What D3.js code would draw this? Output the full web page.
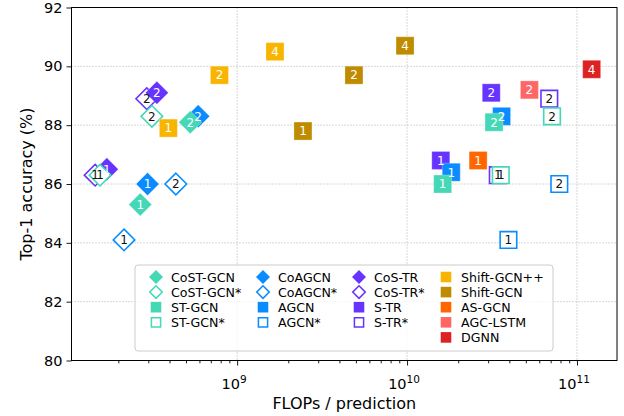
<!DOCTYPE html>
<html>
<head>
<meta charset="utf-8">
<script src="https://cdn.jsdelivr.net/npm/d3@7"></script>
<style>
  body { margin: 0; background: #fff; }
  text { font-family: "DejaVu Sans", sans-serif; }
</style>
</head>
<body>
<main></main>
<script>
// legend order (column by column)
var seriesNames  = ["CoST-GCN", "CoST-GCN*", "ST-GCN", "ST-GCN*",
                    "CoAGCN", "CoAGCN*", "AGCN", "AGCN*",
                    "CoS-TR", "CoS-TR*", "S-TR", "S-TR*",
                    "Shift-GCN++", "Shift-GCN", "AS-GCN", "AGC-LSTM", "DGNN"];
var seriesColors = ["#45d8b6", "#45d8b6", "#45d8b6", "#45d8b6",
                    "#0a8cff", "#0a8cff", "#0a8cff", "#0a8cff",
                    "#6633ff", "#6633ff", "#6633ff", "#6633ff",
                    "#f8b500", "#bf8b00", "#ff6600", "#ff6666", "#dd2222"];
var seriesShapes = ["D", "D", "s", "s", "D", "D", "s", "s", "D", "D", "s", "s",
                    "s", "s", "s", "s", "s"];
var seriesFilled = [true, false, true, false, true, false, true, false,
                    true, false, true, false, true, true, true, true, true];

var seriesFlops = [
  [2.69e8, 5.3e8], [1.56e8, 3.15e8], [1.62e10, 3.25e10], [3.56e10, 7.13e10],
  [2.97e8, 5.9e8], [2.16e8, 4.36e8], [1.82e10, 3.6e10], [3.95e10, 7.87e10],
  [1.71e8, 3.37e8], [1.46e8, 2.94e8], [1.58e10, 3.13e10], [3.42e10, 6.87e10],
  [3.94e8, 7.87e8, 1.67e9], [2.44e9, 4.87e9, 9.73e9], [2.62e10], [5.25e10], [1.22e11]
];
var seriesAcc = [
  [85.3, 88.1], [86.3, 88.3], [86.0, 88.1], [86.3, 88.3],
  [86.0, 88.3], [84.1, 86.0], [86.4, 88.3], [84.1, 86.0],
  [86.5, 89.1], [86.3, 88.9], [86.8, 89.1], [86.3, 88.9],
  [87.9, 89.7, 90.5], [87.8, 89.7, 90.7], [86.8], [89.2], [89.9]
];
var seriesTags = [
  ["1", "2"], ["1", "2"], ["1", "2"], ["1", "2"],
  ["1", "2"], ["1", "2"], ["1", "2"], ["1", "2"],
  ["1", "2"], ["1", "2"], ["1", "2"], ["1", "2"],
  ["1", "2", "4"], ["1", "2", "4"], ["1"], ["2"], ["4"]
];

// painting order of the marks
var drawOrder = ["CoS-TR*", "CoS-TR", "S-TR*", "S-TR",
                 "CoAGCN*", "CoAGCN", "AGCN*", "AGCN",
                 "CoST-GCN*", "CoST-GCN", "ST-GCN*", "ST-GCN",
                 "Shift-GCN++", "Shift-GCN", "AS-GCN", "AGC-LSTM", "DGNN"];

var yTicks = [80, 82, 84, 86, 88, 90, 92];
var xTicks = [1e9, 1e10, 1e11];

var W = 624, H = 416;
var plotL = 71.5, plotR = 617, plotT = 7.5, plotB = 360.5;

var svg = d3.select("main").append("svg")
    .attr("width", W)
    .attr("height", H);

var x = d3.scaleLog().domain([1.06e8, 1.72e11]).range([plotL, plotR]);
var y = d3.scaleLinear().domain([80, 92]).range([plotB, plotT]);

// grid
var minorX = [];
for (var e = 8; e <= 11; e++) {
  for (var m = 2; m <= 9; m++) {
    var v = m * Math.pow(10, e);
    if (v > 1.06e8 && v < 1.72e11) minorX.push(v);
  }
}
svg.append("g").selectAll("line").data(xTicks).enter().append("line")
  .attr("x1", d => x(d)).attr("x2", d => x(d))
  .attr("y1", plotT).attr("y2", plotB)
  .attr("stroke", "#b0b0b0").attr("stroke-width", 1).attr("stroke-dasharray", "1,2");
svg.append("g").selectAll("line").data(yTicks.slice(1, -1)).enter().append("line")
  .attr("x1", plotL).attr("x2", plotR)
  .attr("y1", d => y(d)).attr("y2", d => y(d))
  .attr("stroke", "#b0b0b0").attr("stroke-width", 1).attr("stroke-dasharray", "1,2");

// axes
var yAxis = svg.append("g")
  .attr("transform", "translate(" + plotL + ",0)")
  .call(d3.axisLeft(y).tickValues(yTicks).tickSize(5).tickPadding(4));
svg.append("g")
  .attr("transform", "translate(0," + plotB + ")")
  .call(d3.axisBottom(x).tickValues(xTicks).tickSize(5).tickFormat(""));
svg.append("g")
  .attr("transform", "translate(0," + plotB + ")")
  .call(d3.axisBottom(x).tickValues(minorX).tickSize(2.8).tickFormat(""));
svg.selectAll(".domain").remove();
svg.selectAll(".tick line").attr("stroke", "#000").attr("stroke-width", 0.9);
yAxis.selectAll("text").attr("font-size", 14.5).attr("fill", "#000")
  .style("font-family", "DejaVu Sans");

xTicks.forEach(function(t) {
  var lab = svg.append("text")
    .attr("x", x(t) - 3)
    .attr("y", plotB + 28)
    .attr("text-anchor", "middle")
    .attr("font-size", 14.5);
  lab.append("tspan").text("10");
  lab.append("tspan").attr("font-size", 10.5).attr("dy", -6).text(Math.round(Math.log10(t)));
});

svg.append("rect")
  .attr("x", plotL).attr("y", plotT)
  .attr("width", plotR - plotL).attr("height", plotB - plotT)
  .attr("fill", "none").attr("stroke", "#000").attr("stroke-width", 1);

svg.append("text")
  .attr("x", (plotL + plotR) / 2).attr("y", 409)
  .attr("text-anchor", "middle").attr("font-size", 16)
  .text("FLOPs / prediction");
svg.append("text")
  .attr("transform", "translate(32," + ((plotT + plotB) / 2) + ") rotate(-90)")
  .attr("text-anchor", "middle").attr("font-size", 16)
  .text("Top-1 accuracy (%)");

function markerPath(shape, size) {
  if (shape === "D") {
    return "M0," + (-size) + "L" + size + ",0L0," + size + "L" + (-size) + ",0Z";
  }
  return "M" + (-size) + "," + (-size) + "H" + size + "V" + size + "H" + (-size) + "Z";
}

var marks = svg.append("g");
var tags = svg.append("g");
drawOrder.forEach(function(name) {
  var i = seriesNames.indexOf(name);
  var pts = seriesFlops[i].map(function(f, j) {
    return { f: f, a: seriesAcc[i][j], t: seriesTags[i][j] };
  });
  var sz = seriesShapes[i] === "D" ? (seriesFilled[i] ? 11.5 : 10.8) : (seriesFilled[i] ? 9 : 8.3);
  marks.selectAll(null).data(pts).enter().append("path")
    .attr("transform", d => "translate(" + x(d.f) + "," + y(d.a) + ")")
    .attr("d", markerPath(seriesShapes[i], sz))
    .attr("fill", seriesFilled[i] ? seriesColors[i] : "#fff")
    .attr("stroke", seriesFilled[i] ? "#fff" : seriesColors[i])
    .attr("stroke-opacity", seriesFilled[i] ? 0.35 : 1)
    .attr("stroke-width", seriesFilled[i] ? 0.8 : 1.6);
  tags.selectAll(null).data(pts).enter().append("text")
    .attr("x", d => x(d.f))
    .attr("y", d => y(d.a) + 4.3)
    .attr("text-anchor", "middle")
    .attr("font-size", 12)
    .attr("fill", seriesFilled[i] ? "#fff" : "#111")
    .text(d => d.t);
});

// legend
var lg = svg.append("g");
lg.append("rect")
  .attr("x", 135).attr("y", 265).attr("width", 418).attr("height", 86)
  .attr("rx", 3)
  .attr("fill", "#fff").attr("fill-opacity", 0.8)
  .attr("stroke", "#cccccc").attr("stroke-width", 1);
var colX = [156, 263, 359, 446];
var colStart = [0, 4, 8, 12];
seriesNames.forEach(function(name, i) {
  var c = i < 4 ? 0 : i < 8 ? 1 : i < 12 ? 2 : 3;
  var r = i - colStart[c];
  var cx = colX[c], cy = 277 + r * 15.1;
  var sz = seriesShapes[i] === "D" ? 7 : 5.3;
  lg.append("path")
    .attr("transform", "translate(" + cx + "," + cy + ")")
    .attr("d", markerPath(seriesShapes[i], seriesFilled[i] ? sz : sz - 0.7))
    .attr("fill", seriesFilled[i] ? seriesColors[i] : "#fff")
    .attr("stroke", seriesFilled[i] ? "none" : seriesColors[i])
    .attr("stroke-width", 1.5);
  lg.append("text")
    .attr("x", cx + 15).attr("y", cy + 4.5)
    .attr("font-size", 12.6)
    .text(name);
});
</script>
</body>
</html>
